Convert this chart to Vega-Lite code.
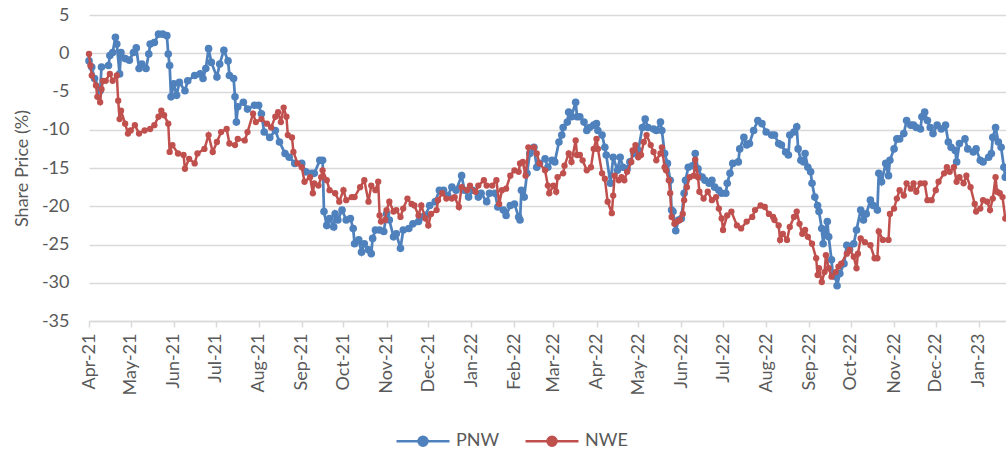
{
  "$schema": "https://vega.github.io/schema/vega-lite/v6.json",
  "width": 917,
  "height": 306,
  "autosize": {"type": "none"},
  "padding": {"left": 89, "top": 15, "right": 0, "bottom": 129},
  "background": "white",
  "config": {"view": {"stroke": null}, "font": "Lato"},
  "data": {"values": [
    {"d":"2021-04-01","s":"PNW","v":-1.0},{"d":"2021-04-03","s":"PNW","v":-1.8},{"d":"2021-04-05","s":"PNW","v":-3.3},{"d":"2021-04-09","s":"PNW","v":-4.9},{"d":"2021-04-10","s":"PNW","v":-1.8},{"d":"2021-04-15","s":"PNW","v":-1.6},{"d":"2021-04-16","s":"PNW","v":-0.3},{"d":"2021-04-18","s":"PNW","v":0.1},{"d":"2021-04-20","s":"PNW","v":2.1},{"d":"2021-04-21","s":"PNW","v":1.2},{"d":"2021-04-23","s":"PNW","v":-2.7},{"d":"2021-04-24","s":"PNW","v":0.1},{"d":"2021-04-27","s":"PNW","v":-0.7},{"d":"2021-04-30","s":"PNW","v":-0.9},
    {"d":"2021-05-03","s":"PNW","v":0.1},{"d":"2021-05-05","s":"PNW","v":0.7},{"d":"2021-05-07","s":"PNW","v":-2.0},{"d":"2021-05-09","s":"PNW","v":-1.4},{"d":"2021-05-12","s":"PNW","v":-2.0},{"d":"2021-05-14","s":"PNW","v":-0.1},{"d":"2021-05-15","s":"PNW","v":1.2},{"d":"2021-05-18","s":"PNW","v":1.4},{"d":"2021-05-21","s":"PNW","v":2.5},{"d":"2021-05-24","s":"PNW","v":2.5},{"d":"2021-05-27","s":"PNW","v":2.3},{"d":"2021-05-28","s":"PNW","v":-0.1},{"d":"2021-05-29","s":"PNW","v":-1.6},{"d":"2021-05-30","s":"PNW","v":-5.7},
    {"d":"2021-06-01","s":"PNW","v":-4.0},{"d":"2021-06-03","s":"PNW","v":-5.5},{"d":"2021-06-05","s":"PNW","v":-3.8},{"d":"2021-06-09","s":"PNW","v":-4.9},{"d":"2021-06-11","s":"PNW","v":-3.6},{"d":"2021-06-16","s":"PNW","v":-2.9},{"d":"2021-06-20","s":"PNW","v":-2.7},{"d":"2021-06-22","s":"PNW","v":-3.3},{"d":"2021-06-24","s":"PNW","v":-2.0},{"d":"2021-06-26","s":"PNW","v":0.6},{"d":"2021-06-28","s":"PNW","v":-1.2},
    {"d":"2021-07-02","s":"PNW","v":-3.1},{"d":"2021-07-04","s":"PNW","v":-1.4},{"d":"2021-07-07","s":"PNW","v":0.4},{"d":"2021-07-10","s":"PNW","v":-1.0},{"d":"2021-07-11","s":"PNW","v":-2.9},{"d":"2021-07-14","s":"PNW","v":-3.3},{"d":"2021-07-15","s":"PNW","v":-5.7},{"d":"2021-07-16","s":"PNW","v":-9.0},{"d":"2021-07-17","s":"PNW","v":-7.0},{"d":"2021-07-21","s":"PNW","v":-6.4},{"d":"2021-07-24","s":"PNW","v":-7.3},{"d":"2021-07-29","s":"PNW","v":-6.8},
    {"d":"2021-08-01","s":"PNW","v":-6.8},{"d":"2021-08-03","s":"PNW","v":-7.9},{"d":"2021-08-05","s":"PNW","v":-10.3},{"d":"2021-08-09","s":"PNW","v":-11.0},{"d":"2021-08-13","s":"PNW","v":-10.1},{"d":"2021-08-16","s":"PNW","v":-11.6},{"d":"2021-08-20","s":"PNW","v":-13.1},{"d":"2021-08-23","s":"PNW","v":-13.6},{"d":"2021-08-27","s":"PNW","v":-14.4},
    {"d":"2021-09-01","s":"PNW","v":-14.4},{"d":"2021-09-04","s":"PNW","v":-15.5},{"d":"2021-09-08","s":"PNW","v":-15.7},{"d":"2021-09-10","s":"PNW","v":-15.7},{"d":"2021-09-14","s":"PNW","v":-14.0},{"d":"2021-09-16","s":"PNW","v":-14.0},{"d":"2021-09-17","s":"PNW","v":-20.7},{"d":"2021-09-19","s":"PNW","v":-22.5},{"d":"2021-09-21","s":"PNW","v":-21.6},{"d":"2021-09-24","s":"PNW","v":-22.7},{"d":"2021-09-25","s":"PNW","v":-21.0},{"d":"2021-09-27","s":"PNW","v":-21.8},{"d":"2021-09-30","s":"PNW","v":-20.5},
    {"d":"2021-10-03","s":"PNW","v":-21.8},{"d":"2021-10-06","s":"PNW","v":-21.6},{"d":"2021-10-08","s":"PNW","v":-22.9},{"d":"2021-10-09","s":"PNW","v":-24.9},{"d":"2021-10-12","s":"PNW","v":-24.4},{"d":"2021-10-14","s":"PNW","v":-26.0},{"d":"2021-10-16","s":"PNW","v":-24.9},{"d":"2021-10-19","s":"PNW","v":-25.7},{"d":"2021-10-21","s":"PNW","v":-26.2},{"d":"2021-10-22","s":"PNW","v":-24.2},{"d":"2021-10-24","s":"PNW","v":-23.1},{"d":"2021-10-27","s":"PNW","v":-23.1},{"d":"2021-10-30","s":"PNW","v":-23.3},
    {"d":"2021-11-01","s":"PNW","v":-21.0},{"d":"2021-11-03","s":"PNW","v":-21.8},{"d":"2021-11-06","s":"PNW","v":-24.0},{"d":"2021-11-08","s":"PNW","v":-23.6},{"d":"2021-11-11","s":"PNW","v":-25.5},{"d":"2021-11-13","s":"PNW","v":-23.1},{"d":"2021-11-17","s":"PNW","v":-22.9},{"d":"2021-11-20","s":"PNW","v":-22.3},{"d":"2021-11-24","s":"PNW","v":-22.0},{"d":"2021-11-26","s":"PNW","v":-21.4},{"d":"2021-11-29","s":"PNW","v":-21.2},
    {"d":"2021-12-02","s":"PNW","v":-19.9},{"d":"2021-12-06","s":"PNW","v":-19.4},{"d":"2021-12-09","s":"PNW","v":-17.9},{"d":"2021-12-12","s":"PNW","v":-17.9},{"d":"2021-12-15","s":"PNW","v":-18.6},{"d":"2021-12-18","s":"PNW","v":-17.5},{"d":"2021-12-21","s":"PNW","v":-17.9},{"d":"2021-12-25","s":"PNW","v":-16.0},{"d":"2021-12-27","s":"PNW","v":-17.9},{"d":"2021-12-30","s":"PNW","v":-18.8},
    {"d":"2022-01-02","s":"PNW","v":-17.9},{"d":"2022-01-06","s":"PNW","v":-18.8},{"d":"2022-01-08","s":"PNW","v":-18.3},{"d":"2022-01-12","s":"PNW","v":-19.4},{"d":"2022-01-14","s":"PNW","v":-18.3},{"d":"2022-01-18","s":"PNW","v":-18.3},{"d":"2022-01-20","s":"PNW","v":-20.1},{"d":"2022-01-24","s":"PNW","v":-20.5},{"d":"2022-01-26","s":"PNW","v":-21.2},{"d":"2022-01-29","s":"PNW","v":-19.9},
    {"d":"2022-02-01","s":"PNW","v":-19.7},{"d":"2022-02-04","s":"PNW","v":-21.4},{"d":"2022-02-05","s":"PNW","v":-21.8},{"d":"2022-02-06","s":"PNW","v":-17.9},{"d":"2022-02-08","s":"PNW","v":-18.8},{"d":"2022-02-10","s":"PNW","v":-15.7},{"d":"2022-02-12","s":"PNW","v":-13.1},{"d":"2022-02-15","s":"PNW","v":-12.3},{"d":"2022-02-17","s":"PNW","v":-14.9},{"d":"2022-02-19","s":"PNW","v":-14.4},{"d":"2022-02-23","s":"PNW","v":-13.8},{"d":"2022-02-25","s":"PNW","v":-14.9},{"d":"2022-02-28","s":"PNW","v":-14.0},
    {"d":"2022-03-02","s":"PNW","v":-14.2},{"d":"2022-03-05","s":"PNW","v":-11.6},{"d":"2022-03-07","s":"PNW","v":-10.7},{"d":"2022-03-08","s":"PNW","v":-9.7},{"d":"2022-03-11","s":"PNW","v":-9.0},{"d":"2022-03-12","s":"PNW","v":-7.7},{"d":"2022-03-14","s":"PNW","v":-8.3},{"d":"2022-03-17","s":"PNW","v":-6.4},{"d":"2022-03-18","s":"PNW","v":-8.3},{"d":"2022-03-20","s":"PNW","v":-8.3},{"d":"2022-03-23","s":"PNW","v":-9.0},{"d":"2022-03-25","s":"PNW","v":-10.1},{"d":"2022-03-27","s":"PNW","v":-9.7},{"d":"2022-03-30","s":"PNW","v":-9.4},
    {"d":"2022-04-01","s":"PNW","v":-9.2},{"d":"2022-04-02","s":"PNW","v":-10.1},{"d":"2022-04-05","s":"PNW","v":-10.7},{"d":"2022-04-07","s":"PNW","v":-12.3},{"d":"2022-04-08","s":"PNW","v":-13.3},{"d":"2022-04-11","s":"PNW","v":-17.0},{"d":"2022-04-13","s":"PNW","v":-13.6},{"d":"2022-04-16","s":"PNW","v":-15.3},{"d":"2022-04-18","s":"PNW","v":-13.6},{"d":"2022-04-20","s":"PNW","v":-14.9},{"d":"2022-04-23","s":"PNW","v":-15.1},{"d":"2022-04-25","s":"PNW","v":-14.2},{"d":"2022-04-28","s":"PNW","v":-13.1},
    {"d":"2022-05-01","s":"PNW","v":-12.7},{"d":"2022-05-04","s":"PNW","v":-9.7},{"d":"2022-05-06","s":"PNW","v":-8.6},{"d":"2022-05-08","s":"PNW","v":-9.7},{"d":"2022-05-12","s":"PNW","v":-9.9},{"d":"2022-05-14","s":"PNW","v":-10.1},{"d":"2022-05-17","s":"PNW","v":-9.0},{"d":"2022-05-18","s":"PNW","v":-10.1},{"d":"2022-05-20","s":"PNW","v":-13.1},{"d":"2022-05-22","s":"PNW","v":-14.4},{"d":"2022-05-24","s":"PNW","v":-16.6},{"d":"2022-05-25","s":"PNW","v":-20.5},{"d":"2022-05-26","s":"PNW","v":-20.7},{"d":"2022-05-28","s":"PNW","v":-23.2},{"d":"2022-05-30","s":"PNW","v":-21.8},
    {"d":"2022-06-01","s":"PNW","v":-21.6},{"d":"2022-06-03","s":"PNW","v":-18.3},{"d":"2022-06-04","s":"PNW","v":-16.6},{"d":"2022-06-06","s":"PNW","v":-14.9},{"d":"2022-06-09","s":"PNW","v":-14.7},{"d":"2022-06-11","s":"PNW","v":-13.1},{"d":"2022-06-13","s":"PNW","v":-15.1},{"d":"2022-06-16","s":"PNW","v":-16.2},{"d":"2022-06-18","s":"PNW","v":-16.6},{"d":"2022-06-21","s":"PNW","v":-17.0},{"d":"2022-06-23","s":"PNW","v":-16.6},{"d":"2022-06-25","s":"PNW","v":-17.5},{"d":"2022-06-28","s":"PNW","v":-17.9},{"d":"2022-06-30","s":"PNW","v":-18.3},
    {"d":"2022-07-03","s":"PNW","v":-18.3},{"d":"2022-07-04","s":"PNW","v":-17.0},{"d":"2022-07-06","s":"PNW","v":-15.7},{"d":"2022-07-08","s":"PNW","v":-14.4},{"d":"2022-07-12","s":"PNW","v":-14.2},{"d":"2022-07-13","s":"PNW","v":-12.5},{"d":"2022-07-16","s":"PNW","v":-11.0},{"d":"2022-07-18","s":"PNW","v":-12.0},{"d":"2022-07-20","s":"PNW","v":-11.8},{"d":"2022-07-23","s":"PNW","v":-10.1},{"d":"2022-07-26","s":"PNW","v":-8.8},{"d":"2022-07-29","s":"PNW","v":-9.2},
    {"d":"2022-08-01","s":"PNW","v":-10.3},{"d":"2022-08-05","s":"PNW","v":-10.7},{"d":"2022-08-07","s":"PNW","v":-10.7},{"d":"2022-08-10","s":"PNW","v":-11.8},{"d":"2022-08-12","s":"PNW","v":-12.0},{"d":"2022-08-15","s":"PNW","v":-12.9},{"d":"2022-08-17","s":"PNW","v":-13.3},{"d":"2022-08-18","s":"PNW","v":-10.7},{"d":"2022-08-21","s":"PNW","v":-10.3},{"d":"2022-08-23","s":"PNW","v":-9.6},{"d":"2022-08-24","s":"PNW","v":-12.5},{"d":"2022-08-26","s":"PNW","v":-14.0},{"d":"2022-08-28","s":"PNW","v":-14.2},{"d":"2022-08-29","s":"PNW","v":-13.1},{"d":"2022-08-31","s":"PNW","v":-14.9},
    {"d":"2022-09-02","s":"PNW","v":-15.5},{"d":"2022-09-03","s":"PNW","v":-17.0},{"d":"2022-09-05","s":"PNW","v":-18.8},{"d":"2022-09-07","s":"PNW","v":-19.9},{"d":"2022-09-08","s":"PNW","v":-20.7},{"d":"2022-09-10","s":"PNW","v":-22.9},{"d":"2022-09-11","s":"PNW","v":-24.9},{"d":"2022-09-12","s":"PNW","v":-23.6},{"d":"2022-09-14","s":"PNW","v":-22.0},{"d":"2022-09-15","s":"PNW","v":-24.0},{"d":"2022-09-17","s":"PNW","v":-27.0},{"d":"2022-09-18","s":"PNW","v":-29.0},{"d":"2022-09-20","s":"PNW","v":-29.2},{"d":"2022-09-21","s":"PNW","v":-30.4},{"d":"2022-09-23","s":"PNW","v":-28.8},{"d":"2022-09-26","s":"PNW","v":-27.5},{"d":"2022-09-28","s":"PNW","v":-25.1},{"d":"2022-09-30","s":"PNW","v":-25.7},
    {"d":"2022-10-03","s":"PNW","v":-24.9},{"d":"2022-10-05","s":"PNW","v":-23.1},{"d":"2022-10-08","s":"PNW","v":-20.5},{"d":"2022-10-10","s":"PNW","v":-21.8},{"d":"2022-10-12","s":"PNW","v":-21.0},{"d":"2022-10-15","s":"PNW","v":-19.2},{"d":"2022-10-17","s":"PNW","v":-19.9},{"d":"2022-10-20","s":"PNW","v":-20.5},{"d":"2022-10-21","s":"PNW","v":-15.7},{"d":"2022-10-23","s":"PNW","v":-16.8},{"d":"2022-10-26","s":"PNW","v":-14.4},{"d":"2022-10-28","s":"PNW","v":-16.0},{"d":"2022-10-29","s":"PNW","v":-14.0},
    {"d":"2022-11-01","s":"PNW","v":-12.5},{"d":"2022-11-03","s":"PNW","v":-11.2},{"d":"2022-11-05","s":"PNW","v":-11.2},{"d":"2022-11-08","s":"PNW","v":-10.5},{"d":"2022-11-10","s":"PNW","v":-8.8},{"d":"2022-11-13","s":"PNW","v":-9.4},{"d":"2022-11-15","s":"PNW","v":-9.4},{"d":"2022-11-17","s":"PNW","v":-9.7},{"d":"2022-11-20","s":"PNW","v":-9.9},{"d":"2022-11-21","s":"PNW","v":-8.3},{"d":"2022-11-23","s":"PNW","v":-7.7},{"d":"2022-11-25","s":"PNW","v":-8.8},{"d":"2022-11-27","s":"PNW","v":-9.7},{"d":"2022-11-29","s":"PNW","v":-10.5},
    {"d":"2022-12-02","s":"PNW","v":-9.4},{"d":"2022-12-05","s":"PNW","v":-9.9},{"d":"2022-12-08","s":"PNW","v":-9.4},{"d":"2022-12-10","s":"PNW","v":-11.6},{"d":"2022-12-12","s":"PNW","v":-12.3},{"d":"2022-12-15","s":"PNW","v":-12.7},{"d":"2022-12-16","s":"PNW","v":-14.2},{"d":"2022-12-18","s":"PNW","v":-11.8},{"d":"2022-12-22","s":"PNW","v":-11.2},{"d":"2022-12-24","s":"PNW","v":-12.5},{"d":"2022-12-28","s":"PNW","v":-12.9},{"d":"2022-12-30","s":"PNW","v":-12.5},
    {"d":"2023-01-02","s":"PNW","v":-14.0},{"d":"2023-01-04","s":"PNW","v":-14.2},{"d":"2023-01-08","s":"PNW","v":-13.6},{"d":"2023-01-10","s":"PNW","v":-13.1},{"d":"2023-01-11","s":"PNW","v":-11.0},{"d":"2023-01-13","s":"PNW","v":-9.7},{"d":"2023-01-15","s":"PNW","v":-11.6},{"d":"2023-01-17","s":"PNW","v":-12.3},{"d":"2023-01-19","s":"PNW","v":-14.9},{"d":"2023-01-20","s":"PNW","v":-16.2},

    {"d":"2021-04-01","s":"NWE","v":-0.1},{"d":"2021-04-02","s":"NWE","v":-1.6},{"d":"2021-04-03","s":"NWE","v":-2.9},{"d":"2021-04-06","s":"NWE","v":-4.2},{"d":"2021-04-07","s":"NWE","v":-5.7},{"d":"2021-04-09","s":"NWE","v":-6.4},{"d":"2021-04-10","s":"NWE","v":-4.7},{"d":"2021-04-11","s":"NWE","v":-3.6},{"d":"2021-04-13","s":"NWE","v":-3.6},{"d":"2021-04-16","s":"NWE","v":-2.7},{"d":"2021-04-18","s":"NWE","v":-3.6},{"d":"2021-04-21","s":"NWE","v":-2.9},{"d":"2021-04-22","s":"NWE","v":-6.2},{"d":"2021-04-23","s":"NWE","v":-8.6},{"d":"2021-04-24","s":"NWE","v":-7.5},{"d":"2021-04-27","s":"NWE","v":-9.2},{"d":"2021-04-29","s":"NWE","v":-10.5},
    {"d":"2021-05-01","s":"NWE","v":-10.1},{"d":"2021-05-04","s":"NWE","v":-9.4},{"d":"2021-05-07","s":"NWE","v":-10.5},{"d":"2021-05-11","s":"NWE","v":-10.1},{"d":"2021-05-15","s":"NWE","v":-9.9},{"d":"2021-05-18","s":"NWE","v":-9.4},{"d":"2021-05-21","s":"NWE","v":-8.3},{"d":"2021-05-23","s":"NWE","v":-7.5},{"d":"2021-05-25","s":"NWE","v":-8.1},{"d":"2021-05-28","s":"NWE","v":-9.2},{"d":"2021-05-29","s":"NWE","v":-12.9},{"d":"2021-05-31","s":"NWE","v":-12.0},
    {"d":"2021-06-04","s":"NWE","v":-13.1},{"d":"2021-06-08","s":"NWE","v":-13.3},{"d":"2021-06-09","s":"NWE","v":-15.1},{"d":"2021-06-12","s":"NWE","v":-13.8},{"d":"2021-06-16","s":"NWE","v":-14.4},{"d":"2021-06-18","s":"NWE","v":-13.1},{"d":"2021-06-23","s":"NWE","v":-12.5},{"d":"2021-06-26","s":"NWE","v":-10.7},{"d":"2021-06-29","s":"NWE","v":-12.9},
    {"d":"2021-07-02","s":"NWE","v":-11.6},{"d":"2021-07-05","s":"NWE","v":-10.3},{"d":"2021-07-09","s":"NWE","v":-9.9},{"d":"2021-07-11","s":"NWE","v":-11.8},{"d":"2021-07-15","s":"NWE","v":-12.0},{"d":"2021-07-17","s":"NWE","v":-11.2},{"d":"2021-07-22","s":"NWE","v":-11.4},{"d":"2021-07-24","s":"NWE","v":-10.3},{"d":"2021-07-28","s":"NWE","v":-7.9},{"d":"2021-07-30","s":"NWE","v":-9.0},
    {"d":"2021-08-03","s":"NWE","v":-8.6},{"d":"2021-08-07","s":"NWE","v":-9.2},{"d":"2021-08-10","s":"NWE","v":-9.7},{"d":"2021-08-13","s":"NWE","v":-8.3},{"d":"2021-08-15","s":"NWE","v":-7.7},{"d":"2021-08-17","s":"NWE","v":-9.0},{"d":"2021-08-19","s":"NWE","v":-7.1},{"d":"2021-08-21","s":"NWE","v":-8.3},{"d":"2021-08-22","s":"NWE","v":-10.7},{"d":"2021-08-25","s":"NWE","v":-11.0},{"d":"2021-08-26","s":"NWE","v":-12.9},{"d":"2021-08-29","s":"NWE","v":-14.4},
    {"d":"2021-09-01","s":"NWE","v":-14.9},{"d":"2021-09-03","s":"NWE","v":-16.8},{"d":"2021-09-07","s":"NWE","v":-16.2},{"d":"2021-09-09","s":"NWE","v":-18.3},{"d":"2021-09-10","s":"NWE","v":-17.0},{"d":"2021-09-13","s":"NWE","v":-17.3},{"d":"2021-09-15","s":"NWE","v":-16.2},{"d":"2021-09-16","s":"NWE","v":-15.3},{"d":"2021-09-19","s":"NWE","v":-16.6},{"d":"2021-09-21","s":"NWE","v":-17.9},{"d":"2021-09-25","s":"NWE","v":-18.3},{"d":"2021-09-28","s":"NWE","v":-19.4},
    {"d":"2021-10-01","s":"NWE","v":-17.9},{"d":"2021-10-03","s":"NWE","v":-19.2},{"d":"2021-10-07","s":"NWE","v":-18.8},{"d":"2021-10-09","s":"NWE","v":-18.8},{"d":"2021-10-13","s":"NWE","v":-17.5},{"d":"2021-10-16","s":"NWE","v":-16.6},{"d":"2021-10-19","s":"NWE","v":-19.4},{"d":"2021-10-21","s":"NWE","v":-17.3},{"d":"2021-10-24","s":"NWE","v":-17.9},{"d":"2021-10-26","s":"NWE","v":-16.8},{"d":"2021-10-27","s":"NWE","v":-21.2},{"d":"2021-10-28","s":"NWE","v":-22.0},{"d":"2021-10-31","s":"NWE","v":-21.8},
    {"d":"2021-11-01","s":"NWE","v":-20.5},{"d":"2021-11-03","s":"NWE","v":-19.4},{"d":"2021-11-06","s":"NWE","v":-20.7},{"d":"2021-11-08","s":"NWE","v":-20.5},{"d":"2021-11-11","s":"NWE","v":-21.4},{"d":"2021-11-13","s":"NWE","v":-20.3},{"d":"2021-11-16","s":"NWE","v":-19.0},{"d":"2021-11-19","s":"NWE","v":-19.7},{"d":"2021-11-21","s":"NWE","v":-19.9},{"d":"2021-11-24","s":"NWE","v":-21.2},{"d":"2021-11-26","s":"NWE","v":-19.9},{"d":"2021-11-29","s":"NWE","v":-21.6},
    {"d":"2021-12-01","s":"NWE","v":-22.5},{"d":"2021-12-03","s":"NWE","v":-21.0},{"d":"2021-12-07","s":"NWE","v":-20.5},{"d":"2021-12-08","s":"NWE","v":-19.2},{"d":"2021-12-11","s":"NWE","v":-18.3},{"d":"2021-12-14","s":"NWE","v":-19.0},{"d":"2021-12-18","s":"NWE","v":-19.0},{"d":"2021-12-20","s":"NWE","v":-18.8},{"d":"2021-12-23","s":"NWE","v":-20.1},{"d":"2021-12-25","s":"NWE","v":-17.5},{"d":"2021-12-29","s":"NWE","v":-17.9},{"d":"2021-12-31","s":"NWE","v":-17.3},
    {"d":"2022-01-04","s":"NWE","v":-18.1},{"d":"2022-01-06","s":"NWE","v":-17.3},{"d":"2022-01-10","s":"NWE","v":-16.6},{"d":"2022-01-12","s":"NWE","v":-17.3},{"d":"2022-01-16","s":"NWE","v":-17.3},{"d":"2022-01-19","s":"NWE","v":-16.6},{"d":"2022-01-21","s":"NWE","v":-19.7},{"d":"2022-01-23","s":"NWE","v":-17.9},{"d":"2022-01-26","s":"NWE","v":-17.7},{"d":"2022-01-29","s":"NWE","v":-16.0},
    {"d":"2022-02-01","s":"NWE","v":-15.3},{"d":"2022-02-04","s":"NWE","v":-15.5},{"d":"2022-02-05","s":"NWE","v":-14.4},{"d":"2022-02-07","s":"NWE","v":-14.2},{"d":"2022-02-09","s":"NWE","v":-16.0},{"d":"2022-02-11","s":"NWE","v":-12.3},{"d":"2022-02-15","s":"NWE","v":-12.3},{"d":"2022-02-17","s":"NWE","v":-13.1},{"d":"2022-02-19","s":"NWE","v":-14.4},{"d":"2022-02-23","s":"NWE","v":-15.3},{"d":"2022-02-25","s":"NWE","v":-17.3},{"d":"2022-02-26","s":"NWE","v":-18.3},
    {"d":"2022-03-01","s":"NWE","v":-17.3},{"d":"2022-03-03","s":"NWE","v":-18.1},{"d":"2022-03-04","s":"NWE","v":-16.2},{"d":"2022-03-08","s":"NWE","v":-15.7},{"d":"2022-03-09","s":"NWE","v":-14.7},{"d":"2022-03-12","s":"NWE","v":-13.1},{"d":"2022-03-14","s":"NWE","v":-14.2},{"d":"2022-03-17","s":"NWE","v":-11.4},{"d":"2022-03-18","s":"NWE","v":-13.3},{"d":"2022-03-20","s":"NWE","v":-13.3},{"d":"2022-03-22","s":"NWE","v":-14.0},{"d":"2022-03-25","s":"NWE","v":-15.3},{"d":"2022-03-28","s":"NWE","v":-14.9},{"d":"2022-03-30","s":"NWE","v":-12.5},
    {"d":"2022-04-01","s":"NWE","v":-11.2},{"d":"2022-04-02","s":"NWE","v":-12.5},{"d":"2022-04-05","s":"NWE","v":-15.7},{"d":"2022-04-07","s":"NWE","v":-16.4},{"d":"2022-04-09","s":"NWE","v":-19.4},{"d":"2022-04-12","s":"NWE","v":-20.9},{"d":"2022-04-13","s":"NWE","v":-18.6},{"d":"2022-04-14","s":"NWE","v":-16.0},{"d":"2022-04-17","s":"NWE","v":-16.6},{"d":"2022-04-19","s":"NWE","v":-16.2},{"d":"2022-04-21","s":"NWE","v":-16.6},{"d":"2022-04-23","s":"NWE","v":-15.5},{"d":"2022-04-26","s":"NWE","v":-14.2},{"d":"2022-04-27","s":"NWE","v":-12.7},{"d":"2022-04-29","s":"NWE","v":-12.0},
    {"d":"2022-05-01","s":"NWE","v":-13.6},{"d":"2022-05-03","s":"NWE","v":-13.3},{"d":"2022-05-05","s":"NWE","v":-11.6},{"d":"2022-05-07","s":"NWE","v":-10.7},{"d":"2022-05-10","s":"NWE","v":-12.0},{"d":"2022-05-12","s":"NWE","v":-12.9},{"d":"2022-05-14","s":"NWE","v":-14.0},{"d":"2022-05-17","s":"NWE","v":-13.1},{"d":"2022-05-18","s":"NWE","v":-12.3},{"d":"2022-05-20","s":"NWE","v":-14.9},{"d":"2022-05-21","s":"NWE","v":-15.3},{"d":"2022-05-23","s":"NWE","v":-16.6},{"d":"2022-05-24","s":"NWE","v":-18.3},{"d":"2022-05-25","s":"NWE","v":-21.4},{"d":"2022-05-27","s":"NWE","v":-22.3},{"d":"2022-05-29","s":"NWE","v":-22.0},{"d":"2022-05-31","s":"NWE","v":-21.8},
    {"d":"2022-06-02","s":"NWE","v":-21.0},{"d":"2022-06-03","s":"NWE","v":-19.2},{"d":"2022-06-05","s":"NWE","v":-17.5},{"d":"2022-06-07","s":"NWE","v":-16.2},{"d":"2022-06-10","s":"NWE","v":-16.0},{"d":"2022-06-11","s":"NWE","v":-13.9},{"d":"2022-06-13","s":"NWE","v":-16.2},{"d":"2022-06-14","s":"NWE","v":-18.1},{"d":"2022-06-17","s":"NWE","v":-19.0},{"d":"2022-06-20","s":"NWE","v":-18.1},{"d":"2022-06-23","s":"NWE","v":-19.2},{"d":"2022-06-26","s":"NWE","v":-18.8},{"d":"2022-06-28","s":"NWE","v":-20.3},{"d":"2022-06-30","s":"NWE","v":-21.6},
    {"d":"2022-07-01","s":"NWE","v":-23.1},{"d":"2022-07-04","s":"NWE","v":-21.2},{"d":"2022-07-07","s":"NWE","v":-20.7},{"d":"2022-07-11","s":"NWE","v":-22.5},{"d":"2022-07-14","s":"NWE","v":-22.9},{"d":"2022-07-18","s":"NWE","v":-22.0},{"d":"2022-07-22","s":"NWE","v":-21.4},{"d":"2022-07-24","s":"NWE","v":-20.5},{"d":"2022-07-28","s":"NWE","v":-19.9},{"d":"2022-07-31","s":"NWE","v":-20.1},
    {"d":"2022-08-03","s":"NWE","v":-21.0},{"d":"2022-08-06","s":"NWE","v":-21.4},{"d":"2022-08-07","s":"NWE","v":-21.8},{"d":"2022-08-10","s":"NWE","v":-22.5},{"d":"2022-08-11","s":"NWE","v":-24.4},{"d":"2022-08-13","s":"NWE","v":-23.6},{"d":"2022-08-16","s":"NWE","v":-24.4},{"d":"2022-08-18","s":"NWE","v":-22.7},{"d":"2022-08-21","s":"NWE","v":-21.4},{"d":"2022-08-23","s":"NWE","v":-20.7},{"d":"2022-08-25","s":"NWE","v":-22.3},{"d":"2022-08-27","s":"NWE","v":-23.6},{"d":"2022-08-29","s":"NWE","v":-23.1},{"d":"2022-08-31","s":"NWE","v":-24.0},
    {"d":"2022-09-03","s":"NWE","v":-24.9},{"d":"2022-09-06","s":"NWE","v":-26.8},{"d":"2022-09-07","s":"NWE","v":-29.0},{"d":"2022-09-08","s":"NWE","v":-28.1},{"d":"2022-09-10","s":"NWE","v":-29.9},{"d":"2022-09-12","s":"NWE","v":-28.6},{"d":"2022-09-13","s":"NWE","v":-26.4},{"d":"2022-09-15","s":"NWE","v":-28.1},{"d":"2022-09-17","s":"NWE","v":-29.2},{"d":"2022-09-20","s":"NWE","v":-28.6},{"d":"2022-09-22","s":"NWE","v":-27.9},{"d":"2022-09-24","s":"NWE","v":-27.5},{"d":"2022-09-28","s":"NWE","v":-26.2},{"d":"2022-09-30","s":"NWE","v":-25.7},
    {"d":"2022-10-03","s":"NWE","v":-26.6},{"d":"2022-10-05","s":"NWE","v":-28.1},{"d":"2022-10-06","s":"NWE","v":-26.2},{"d":"2022-10-08","s":"NWE","v":-24.2},{"d":"2022-10-11","s":"NWE","v":-24.7},{"d":"2022-10-15","s":"NWE","v":-25.1},{"d":"2022-10-18","s":"NWE","v":-26.8},{"d":"2022-10-20","s":"NWE","v":-26.8},{"d":"2022-10-21","s":"NWE","v":-23.3},{"d":"2022-10-24","s":"NWE","v":-24.4},{"d":"2022-10-28","s":"NWE","v":-24.4},{"d":"2022-10-29","s":"NWE","v":-21.0},
    {"d":"2022-11-01","s":"NWE","v":-20.3},{"d":"2022-11-03","s":"NWE","v":-19.0},{"d":"2022-11-05","s":"NWE","v":-17.9},{"d":"2022-11-08","s":"NWE","v":-18.6},{"d":"2022-11-10","s":"NWE","v":-17.0},{"d":"2022-11-13","s":"NWE","v":-17.7},{"d":"2022-11-15","s":"NWE","v":-17.0},{"d":"2022-11-17","s":"NWE","v":-18.1},{"d":"2022-11-20","s":"NWE","v":-17.0},{"d":"2022-11-23","s":"NWE","v":-17.0},{"d":"2022-11-25","s":"NWE","v":-19.2},{"d":"2022-11-28","s":"NWE","v":-19.2},
    {"d":"2022-12-01","s":"NWE","v":-17.9},{"d":"2022-12-03","s":"NWE","v":-16.8},{"d":"2022-12-07","s":"NWE","v":-15.7},{"d":"2022-12-09","s":"NWE","v":-14.9},{"d":"2022-12-11","s":"NWE","v":-15.5},{"d":"2022-12-14","s":"NWE","v":-14.9},{"d":"2022-12-16","s":"NWE","v":-16.8},{"d":"2022-12-18","s":"NWE","v":-16.2},{"d":"2022-12-21","s":"NWE","v":-17.0},{"d":"2022-12-23","s":"NWE","v":-16.0},{"d":"2022-12-26","s":"NWE","v":-17.5},{"d":"2022-12-29","s":"NWE","v":-19.7},{"d":"2022-12-30","s":"NWE","v":-20.7},
    {"d":"2023-01-02","s":"NWE","v":-20.3},{"d":"2023-01-04","s":"NWE","v":-19.2},{"d":"2023-01-07","s":"NWE","v":-19.4},{"d":"2023-01-09","s":"NWE","v":-20.5},{"d":"2023-01-11","s":"NWE","v":-19.0},{"d":"2023-01-13","s":"NWE","v":-16.2},{"d":"2023-01-14","s":"NWE","v":-18.1},{"d":"2023-01-16","s":"NWE","v":-18.3},{"d":"2023-01-18","s":"NWE","v":-18.8},{"d":"2023-01-20","s":"NWE","v":-21.6}
  ]},
  "encoding": {
    "x": {
      "field": "d", "type": "temporal",
      "scale": {"type": "utc", "domain": [{"year": 2021, "month": 4, "date": 1, "utc": true}, {"year": 2023, "month": 1, "date": 20, "hours": 12, "utc": true}]},
      "axis": {
        "title": null, "format": "%b-%y", "labelAngle": -90,
        "tickCount": {"interval": "month", "step": 1},
        "grid": false, "domainColor": "#d9d9d9", "domainWidth": 1.5,
        "tickColor": "#d9d9d9", "tickWidth": 1.5, "tickSize": 6,
        "labelPadding": 6, "labelFontSize": 18, "labelColor": "#595959",
        "labelFlush": false, "labelOverlap": false, "labelBound": false
      }
    },
    "y": {
      "field": "v", "type": "quantitative",
      "scale": {"domain": [-35, 5], "nice": false},
      "axis": {
        "values": [-35, -30, -25, -20, -15, -10, -5, 0, 5],
        "labelExpr": "replace(datum.label, '\u2212', '-')",
        "grid": true, "gridColor": "#d9d9d9", "gridWidth": 1.5,
        "domain": false, "ticks": false, "labelPadding": 20,
        "labelFontSize": 18, "labelColor": "#595959",
        "title": "Share Price (%)", "titleFontSize": 18, "titleFontWeight": "normal",
        "titleColor": "#595959", "titlePadding": 10
      }
    },
    "color": {
      "field": "s", "type": "nominal",
      "scale": {"domain": ["PNW", "NWE"], "range": ["#4f81bd", "#c0504d"]},
      "legend": {
        "title": null, "orient": "none", "direction": "horizontal",
        "legendX": 306, "legendY": 398, "padding": 0,
        "symbolType": "M-1,0H1M0.17,0A0.17,0.17,0,1,1,-0.17,0A0.17,0.17,0,1,1,0.17,0Z",
        "symbolSize": 2809, "symbolStrokeWidth": 2.5,
        "labelFontSize": 18, "labelColor": "#595959", "labelOffset": 5,
        "columnPadding": 20,
        "encode": {"symbols": {"update": {"fill": {"scale": "color", "field": "value"}, "stroke": {"scale": "color", "field": "value"}, "opacity": {"value": 1}}}}
      }
    }
  },
  "layer": [
    {"transform": [{"filter": "datum.s === 'PNW'"}], "mark": {"type": "line", "strokeWidth": 2.75}},
    {"transform": [{"filter": "datum.s === 'PNW'"}], "mark": {"type": "point", "filled": true, "size": 58, "opacity": 1}},
    {"transform": [{"filter": "datum.s === 'NWE'"}], "mark": {"type": "line", "strokeWidth": 2.5}},
    {"transform": [{"filter": "datum.s === 'NWE'"}], "mark": {"type": "point", "filled": true, "size": 40, "opacity": 1}}
  ]
}
